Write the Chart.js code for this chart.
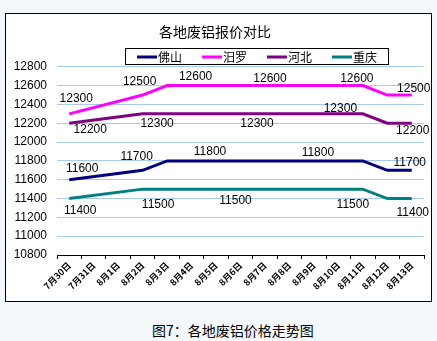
<!DOCTYPE html>
<html>
<head>
<meta charset="utf-8">
<script src="https://cdn.jsdelivr.net/npm/chart.js@4/dist/chart.umd.min.js"></script>
<style>
  body { margin: 0; background: #f3f8fd; width: 437px; height: 341px; overflow: hidden; position: relative; }
  #frame { position: absolute; left: 5px; top: 13px; width: 425px; height: 287px; border: 1px solid #000; background: #fff; }
  #caption { position: absolute; left: 152px; top: 320px; font: 14px "Noto Sans CJK SC", sans-serif; color: #000; white-space: nowrap; }
</style>
</head>
<body>
<div id="frame"><canvas id="priceChart" width="425" height="287"></canvas></div>
<div id="caption">图7：各地废铝价格走势图</div>
<script>
  // dates on the x axis
  const days = ['7月30日', '7月31日', '8月1日', '8月2日', '8月3日', '8月4日', '8月5日', '8月6日',
                '8月7日', '8月8日', '8月9日', '8月10日', '8月11日', '8月12日', '8月13日'];

  // prices per region (no quotes on 7/31 and 8/1)
  const foshan    = [11600, null, null, 11700, 11800, 11800, 11800, 11800, 11800, 11800, 11800, 11800, 11800, 11700, 11700];
  const miluo     = [12300, null, null, 12500, 12600, 12600, 12600, 12600, 12600, 12600, 12600, 12600, 12600, 12500, 12500];
  const hebei     = [12200, null, null, 12300, 12300, 12300, 12300, 12300, 12300, 12300, 12300, 12300, 12300, 12200, 12200];
  const chongqing = [11400, null, null, 11500, 11500, 11500, 11500, 11500, 11500, 11500, 11500, 11500, 11500, 11400, 11400];

  const yTicks = [10800, 11000, 11200, 11400, 11600, 11800, 12000, 12200, 12400, 12600, 12800];

  // which points get a value label, and where the label sits relative to the point
  const labelSpots = [
    [{ i: 0, dx: 13, dy: -11 }, { i: 3, dx: -6, dy: -14 }, { i: 6, dx: -6, dy: -9 }, { i: 10, dx: 4, dy: -8 }, { i: 14, dx: -2, dy: -8 }],
    [{ i: 0, dx: 7, dy: -15 }, { i: 3, dx: -3, dy: -13 }, { i: 5, dx: 4, dy: -9 }, { i: 8, dx: 5, dy: -7 }, { i: 12, dx: -6, dy: -7 }, { i: 14, dx: 2, dy: -6 }],
    [{ i: 0, dx: 21, dy: 6 }, { i: 4, dx: -10, dy: 10 }, { i: 8, dx: -8, dy: 10 }, { i: 11, dx: 2, dy: -5 }, { i: 14, dx: 1, dy: 7 }],
    [{ i: 0, dx: 11, dy: 12 }, { i: 4, dx: -9, dy: 16 }, { i: 7, dx: -5, dy: 12 }, { i: 12, dx: -10, dy: 16 }, { i: 14, dx: 1, dy: 14 }]
  ];

  const valueLabels = {
    id: 'valueLabels',
    afterDatasetsDraw(chart) {
      const ctx = chart.ctx;
      ctx.save();
      ctx.font = '12px "Liberation Sans", Arial, sans-serif';
      ctx.fillStyle = '#000';
      ctx.textAlign = 'center';
      ctx.textBaseline = 'middle';
      chart.data.datasets.forEach((ds, d) => {
        const meta = chart.getDatasetMeta(d);
        labelSpots[d].forEach(s => {
          const pt = meta.data[s.i];
          ctx.fillText(String(ds.data[s.i]), pt.x + s.dx, pt.y + s.dy);
        });
      });
      ctx.restore();
    }
  };

  // boxed legend row under the title
  const boxedLegend = {
    id: 'boxedLegend',
    afterDraw(chart) {
      const ctx = chart.ctx;
      ctx.save();
      ctx.strokeStyle = '#000';
      ctx.lineWidth = 1;
      ctx.strokeRect(119.5, 34.5, 263, 16);
      ctx.font = '12px "Noto Sans CJK SC", sans-serif';
      ctx.textBaseline = 'middle';
      ctx.fillStyle = '#000';
      chart.data.datasets.forEach((ds, d) => {
        const x = 131 + d * 65;
        ctx.strokeStyle = ds.borderColor;
        ctx.lineWidth = 3;
        ctx.beginPath();
        ctx.moveTo(x, 43);
        ctx.lineTo(x + 20, 43);
        ctx.stroke();
        ctx.fillText(ds.label, x + 21, 43);
      });
      ctx.restore();
    }
  };

  const line = (label, data, color) => ({
    label, data,
    borderColor: color,
    backgroundColor: color,
    borderWidth: 3,
    pointRadius: 0,
    tension: 0,
    spanGaps: true
  });

  new Chart(document.getElementById('priceChart').getContext('2d'), {
    type: 'line',
    data: {
      labels: days,
      datasets: [
        line('佛山', foshan, '#000080'),
        line('汨罗', miluo, '#ff00ff'),
        line('河北', hebei, '#800080'),
        line('重庆', chongqing, '#008080')
      ]
    },
    options: {
      responsive: false,
      animation: false,
      layout: { padding: { top: 0, right: 7, bottom: 0, left: 0 } },
      plugins: {
        legend: { display: false },
        tooltip: { enabled: false },
        title: {
          display: true,
          text: '各地废铝报价对比',
          color: '#000',
          font: { family: '"Noto Sans CJK SC", sans-serif', size: 14, weight: 'normal', lineHeight: 1.2 },
          padding: { top: 9, bottom: 27 }
        }
      },
      scales: {
        x: {
          offset: true,
          afterFit: s => { s.height = 46; },
          grid: { offset: true, drawOnChartArea: false, color: '#000', tickLength: 4 },
          border: { color: '#000', width: 1 },
          ticks: {
            autoSkip: false, maxRotation: 45, minRotation: 45, padding: 1,
            color: '#000',
            font: { family: '"Noto Sans CJK SC", sans-serif', size: 9, weight: 'bold' }
          }
        },
        y: {
          min: 10800, max: 12800,
          afterFit: s => { s.width = 51; },
          afterBuildTicks: s => { s.ticks = yTicks.map(v => ({ value: v })); },
          grid: { color: '#a6caf0', drawTicks: false },
          border: { display: false },
          ticks: {
            padding: 10, color: '#000',
            callback: v => String(v),
            font: { family: '"Liberation Sans", Arial, sans-serif', size: 12 }
          }
        }
      }
    },
    plugins: [valueLabels, boxedLegend]
  });
</script>
</body>
</html>
